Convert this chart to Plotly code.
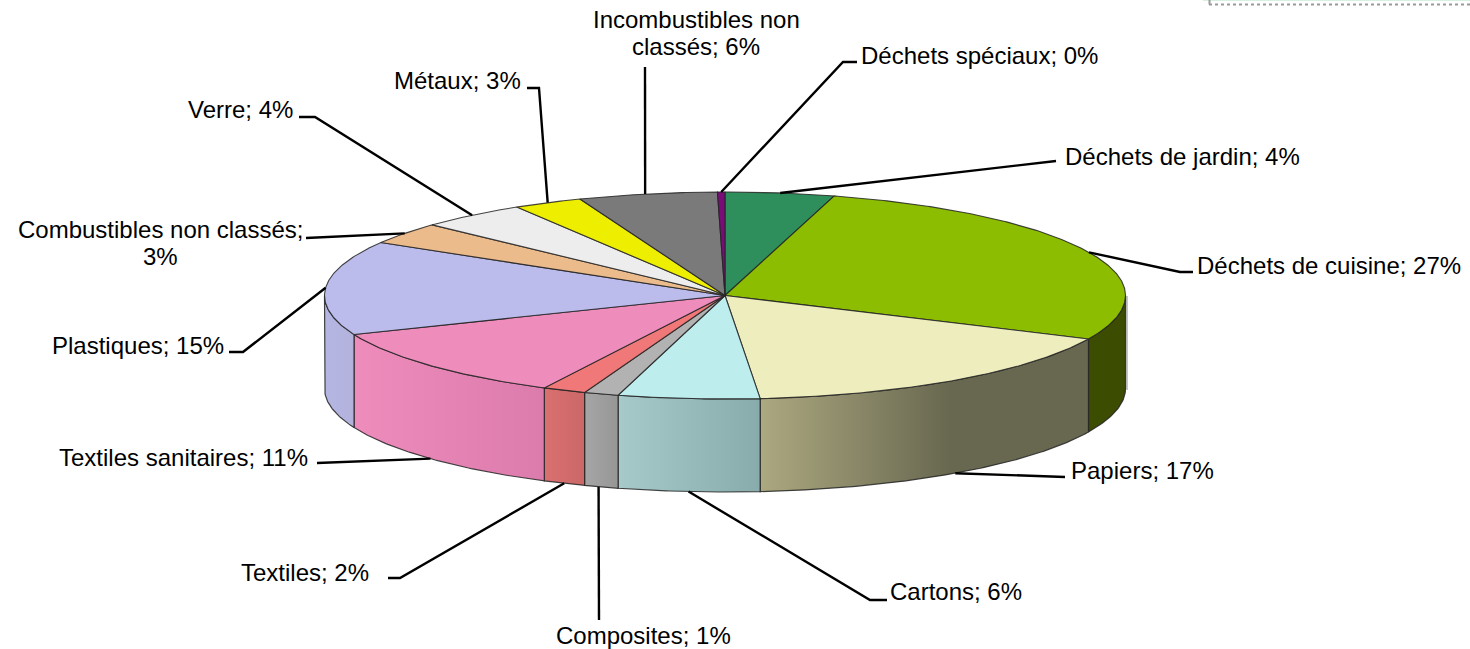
import math
import plotly.graph_objects as go

# ---- data (clockwise from the top of the pie)
categories = ["Déchets de jardin", "Déchets de cuisine", "Papiers", "Cartons", "Composites",
              "Textiles", "Textiles sanitaires", "Plastiques", "Combustibles non classés",
              "Verre", "Métaux", "Incombustibles non classés", "Déchets spéciaux"]
shares = [4.4, 27.5, 16.7, 5.7, 1.4, 1.75, 11.4, 14.7, 3.4, 4.35, 2.8, 5.6, 0.3]
shown_percent = [4, 27, 17, 6, 1, 2, 11, 15, 3, 4, 3, 6, 0]
top_colors = ["#2E8F5C", "#8CBD00", "#EEEDBE", "#BEEDED", "#B2B2B2", "#F07878", "#EE8CBC",
              "#BBBBEC", "#ECBB8C", "#EDEDED", "#EEEE00", "#7A7A7A", "#7A0C7A"]
wall_left_colors = {1: "#3C4C00", 2: "#ACA880", 3: "#A6CACA", 4: "#A6A6A6", 5: "#DA7070",
                    6: "#EE8CBC", 7: "#B6B6E4"}
wall_right_colors = {1: "#3C4C00", 2: "#686850", 3: "#88ABAB", 4: "#969696", 5: "#CC6868",
                     6: "#DC7CAC", 7: "#B2B2DC"}

# ---- layout of the drawing (page pixels)
CX, CY, RX, RY, DEPTH = 725, 295.5, 400.5, 103.5, 93
FONT = 24
LINE_GAP = 27
# text anchor x, y, horizontal anchor, elbow of the leader (or None), end of the leader
label_layout = [
    (1063, 156, "left", None, (1056, 161)),
    (1195, 265, "left", (1180, 272), (1193, 272)),
    (1069, 470, "left", (1050, 477), (1065, 477)),
    (888, 591, "left", (870, 600), (887, 600)),
    (554, 635, "left", None, (599, 620)),
    (239, 572, "left", (400, 578), (388, 578)),
    (57, 457, "left", (330, 463), (317, 463)),
    (50, 345, "left", (243, 352), (229, 352)),
    (160, 243, "center", None, (306, 238)),
    (186, 109, "left", (315, 117), (299, 117)),
    (392, 80, "left", (539, 88), (527, 88)),
    (696, 33, "center", None, (645, 67)),
    (859, 55, "left", (843, 62), (857, 62)),
]
label_lines = {8: ["Combustibles non classés;", "3%"], 11: ["Incombustibles non", "classés; 6%"]}
leader_angle = {4: 198.4, 11: 348.5}


def point(deg, drop=0.0):
    a = math.radians(deg)
    return CX + RX * math.sin(a), CY - RY * math.cos(a) + drop


def arc(a0, a1, drop=0.0):
    n = max(2, int(abs(a1 - a0) * 2) + 1)
    return [point(a0 + (a1 - a0) * i / (n - 1), drop) for i in range(n)]


total = sum(shares)
edges = [0.0]
for s in shares:
    edges.append(edges[-1] + s / total * 360)

EDGE = "rgba(35,35,35,0.85)"
fig = go.Figure()

# side walls: only the front half of the disc shows
for i, cat in enumerate(categories):
    a0, a1 = max(edges[i], 90), min(edges[i + 1], 270)
    if a1 <= a0:
        continue
    pts = arc(a0, a1) + arc(a1, a0, DEPTH)
    pts.append(pts[0])
    xs = [p[0] for p in pts]
    grad = dict(type="horizontal",
                colorscale=[[0, wall_left_colors[i]], [1, wall_right_colors[i]]],
                start=min(xs), stop=950 if i == 2 else max(xs))
    fig.add_trace(go.Scatter(x=xs, y=[p[1] for p in pts], mode="lines", fill="toself",
                             fillgradient=grad, line=dict(color=EDGE, width=1.2),
                             name=cat, hoverinfo="skip", showlegend=False))

# top surface
for i, cat in enumerate(categories):
    pts = [(CX, CY)] + arc(edges[i], edges[i + 1]) + [(CX, CY)]
    fig.add_trace(go.Scatter(x=[p[0] for p in pts], y=[p[1] for p in pts], mode="lines",
                             fill="toself", fillcolor=top_colors[i],
                             line=dict(color=EDGE, width=1.1), name=cat,
                             hoverinfo="skip", showlegend=False))

# leaders and labels
for i, cat in enumerate(categories):
    ax, ay, anchor, elbow, end = label_layout[i]
    mid = leader_angle.get(i, (edges[i] + edges[i + 1]) / 2)
    # the leader leaves from the outer rim: on the wall bottom for front slices
    front = 115 < mid < 250
    start = point(mid, DEPTH if front else 0)
    path = [start] + ([elbow] if elbow else []) + [end]
    fig.add_trace(go.Scatter(x=[p[0] for p in path], y=[p[1] for p in path], mode="lines",
                             line=dict(color="#000000", width=2.4),
                             hoverinfo="skip", showlegend=False))
    lines = label_lines.get(i, [f"{cat}; {shown_percent[i]}%"])
    for k, line in enumerate(lines):
        y = ay + (k - (len(lines) - 1) / 2) * LINE_GAP
        fig.add_annotation(x=ax, y=y, xref="x", yref="y", text=line, showarrow=False,
                           xanchor=anchor, yanchor="middle", align="center",
                           font=dict(family="Liberation Sans", size=FONT, color="#000000"))

# fragment of a box clipped by the top right corner of the picture
fig.add_shape(type="rect", x0=1203, x1=1470, y0=-1, y1=1, line_width=0, fillcolor="#D8F0E0")
fig.add_shape(type="line", x0=1209, x1=1470, y0=4.5, y1=4.5,
              line=dict(color="#9A9A9A", width=2, dash="dot"))
fig.add_shape(type="line", x0=1209.5, x1=1209.5, y0=0, y1=4.5, line=dict(color="#9A9A9A", width=2))
# pale edge to the right of the wall
fig.add_shape(type="line", x0=1127, x1=1127, y0=296, y1=390, layer="below",
              line=dict(color="#C4C4C4", width=2))

fig.update_xaxes(range=[0, 1470], visible=False, fixedrange=True)
fig.update_yaxes(range=[649, 0], visible=False, fixedrange=True)
fig.update_layout(width=1470, height=649, margin=dict(l=0, r=0, t=0, b=0),
                  paper_bgcolor="#FFFFFF", plot_bgcolor="#FFFFFF", showlegend=False)
fig.write_html("out.html", config={"displayModeBar": False},
               post_script="document.body.style.margin='0';document.documentElement.style.overflow='hidden';")
